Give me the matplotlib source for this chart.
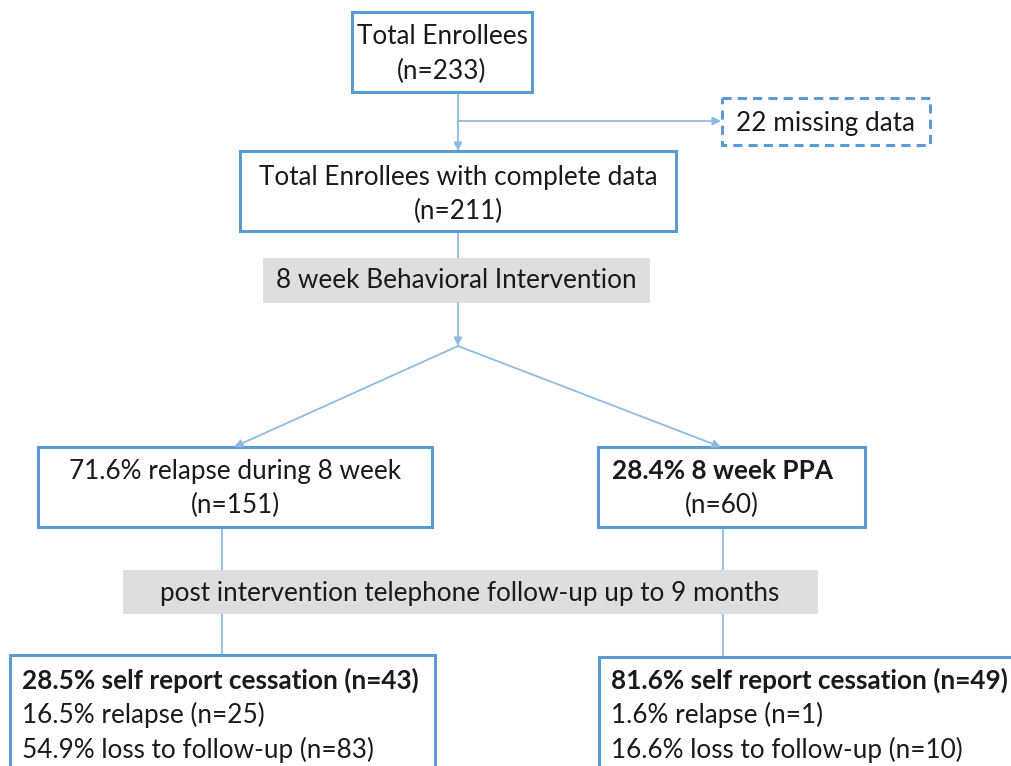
import matplotlib.pyplot as plt
from matplotlib.patches import Rectangle

plt.rcParams['font.family'] = ['Lato', 'DejaVu Sans']

# flow counts / labels
total_n = 233
missing_n = 22
complete_n = 211
relapse_pct, relapse_n = 71.6, 151
ppa_pct, ppa_n = 28.4, 60
left_results = [("28.5% self report cessation (n=43)", True),
                ("16.5% relapse (n=25)", False),
                ("54.9% loss to follow-up (n=83)", False)]
right_results = [("81.6% self report cessation (n=49)", True),
                 ("1.6% relapse (n=1)", False),
                 ("16.6% loss to follow-up (n=10)", False)]
stage1 = "8 week Behavioral Intervention"
stage2 = "post intervention telephone follow-up up to 9 months"

BOX = "#5b9bd5"
LINE = "#8dbbe3"
GREY = "#dedede"
TXT = "#1a1a1a"
FS = 18.8

fig = plt.figure(figsize=(10.11, 7.66), dpi=100)
ax = fig.add_axes([0, 0, 1, 1])
ax.set_xlim(0, 1011)
ax.set_ylim(766, 0)
ax.axis('off')


def box(x0, y0, x1, y1, dashed=False, fill=None):
    if fill:
        ax.add_patch(Rectangle((x0, y0), x1 - x0, y1 - y0, facecolor=fill,
                               edgecolor='none', zorder=1))
    else:
        ax.add_patch(Rectangle((x0, y0), x1 - x0, y1 - y0, facecolor='white',
                               edgecolor=BOX, lw=2.2,
                               ls=(0, (3, 2)) if dashed else '-', zorder=2))


def line(x0, y0, x1, y1):
    ax.plot([x0, x1], [y0, y1], color=LINE, lw=1.3, zorder=0)


def arrow(x0, y0, x1, y1):
    ax.annotate('', xy=(x1, y1), xytext=(x0, y0),
                arrowprops=dict(arrowstyle='-|>', color=LINE, lw=1.3,
                                mutation_scale=12, shrinkA=0, shrinkB=0), zorder=3)


def txt(x, y, s, bold=False, ha='center'):
    ax.text(x, y, s, ha=ha, va='center', fontsize=FS, color=TXT,
            fontweight='bold' if bold else 'normal', zorder=4)


# connectors
line(458, 92, 458, 121)
arrow(458, 121, 458, 151)
arrow(458, 121, 721, 121)
line(458, 231, 458, 260)
arrow(458, 303, 458, 346)
arrow(458, 346, 234, 447)
arrow(458, 346, 721, 447)
line(222, 527, 222, 655)
line(723, 527, 723, 657)

# boxes
box(352, 12, 532, 92)
txt(442, 37, "Total Enrollees")
txt(442, 71, f"(n={total_n})")

box(722, 98, 930, 145, dashed=True)
txt(826, 123, f"{missing_n} missing data")

box(240, 151, 676, 231)
txt(458, 177, "Total Enrollees with complete data")
txt(458, 211, f"(n={complete_n})")

box(263, 258, 650, 303, fill=GREY)
txt(456, 281, stage1)

box(38, 447, 432, 527)
txt(235, 471, f"{relapse_pct}% relapse during 8 week")
txt(235, 505, f"(n={relapse_n})")

box(598, 447, 865, 527)
txt(722, 471, f"{ppa_pct}% 8 week PPA", bold=True)
txt(722, 505, f"(n={ppa_n})")

box(123, 570, 818, 614, fill=GREY)
txt(470, 593, stage2)

box(10, 655, 435, 790)
for i, (s, b) in enumerate(left_results):
    txt(22, 680 + 35 * i, s, bold=b, ha='left')

box(599, 657, 1030, 790)
for i, (s, b) in enumerate(right_results):
    txt(611, 680 + 35 * i, s, bold=b, ha='left')

fig.savefig("out.png", dpi=100)
